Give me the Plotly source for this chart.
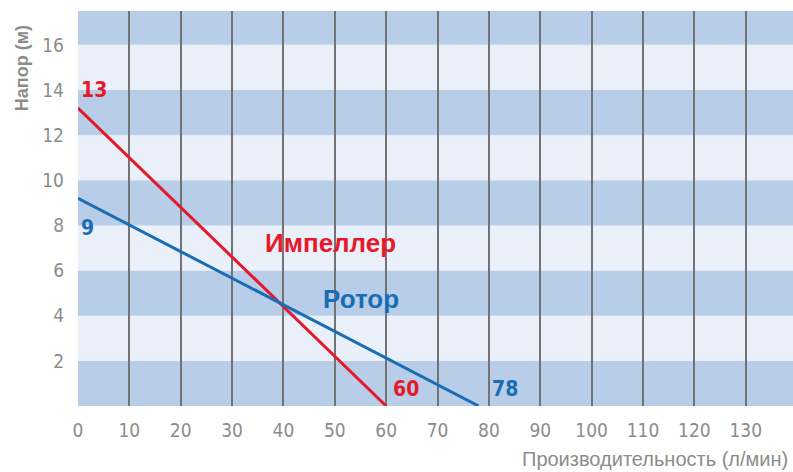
import plotly.graph_objects as go

# Data
impeller_x = [0, 60]
impeller_y = [13.2, 0]
rotor_x = [0, 78]
rotor_y = [9.2, 0]
x_ticks = list(range(0, 140, 10))
y_ticks = list(range(2, 18, 2))
band_edges = [0, 2, 4, 6, 8, 10, 12, 14, 16, 17.5]

RED = "#e5192a"
BLUE = "#1a6db5"
DARK = "#b8cee8"
LIGHT = "#e9f0f9"
TICK = "#8c8c8c"
NARROW = "Liberation Sans Narrow, Arial Narrow, DejaVu Sans Condensed, Liberation Sans, Arial, sans-serif"
SANS = "Liberation Sans, Arial, sans-serif"

fig = go.Figure()
fig.add_trace(go.Scatter(x=impeller_x, y=impeller_y, mode="lines",
                         line=dict(color=RED, width=3), showlegend=False, hoverinfo="skip"))
fig.add_trace(go.Scatter(x=rotor_x, y=rotor_y, mode="lines",
                         line=dict(color=BLUE, width=3), showlegend=False, hoverinfo="skip"))

shapes = []
for i in range(len(band_edges) - 1):
    shapes.append(dict(type="rect", xref="paper", yref="y", x0=0, x1=1,
                       y0=band_edges[i], y1=band_edges[i + 1],
                       fillcolor=DARK if i % 2 == 0 else LIGHT,
                       line=dict(width=0), layer="below"))

annotations = [
    dict(x=impeller_x[0], y=impeller_y[0], text="<b>13</b>", xanchor="left", yanchor="bottom",
         xshift=1, yshift=4, font=dict(color=RED, size=21, family=NARROW)),
    dict(x=rotor_x[0], y=rotor_y[0], text="<b>9</b>", xanchor="left", yanchor="top",
         xshift=1, yshift=-16, font=dict(color=BLUE, size=21, family=NARROW)),
    dict(x=impeller_x[1], y=0, text="<b>60</b>", xanchor="left", yanchor="bottom",
         xshift=5, yshift=3, font=dict(color=RED, size=21, family=NARROW)),
    dict(x=rotor_x[1], y=0, text="<b>78</b>", xanchor="left", yanchor="bottom",
         xshift=11, yshift=3, font=dict(color=BLUE, size=21, family=NARROW)),
    dict(x=49.1, y=7.2, text="<b>Импеллер</b>", xanchor="center", yanchor="middle",
         font=dict(color=RED, size=26, family=SANS)),
    dict(x=55.0, y=4.75, text="<b>Ротор</b>", xanchor="center", yanchor="middle",
         font=dict(color=BLUE, size=26, family=SANS)),
    dict(x=1, y=-0.135, xref="paper", yref="paper", text="Производительность (л/мин)",
         xanchor="right", yanchor="middle", showarrow=False, xshift=-3,
         font=dict(color=TICK, size=20, family=SANS)),
    dict(x=-0.0785, y=0.855, xref="paper", yref="paper", text="<b>Напор (м)</b>",
         textangle=-90, xanchor="center", yanchor="middle", showarrow=False,
         font=dict(color=TICK, size=18, family=SANS)),
]
for a in annotations:
    a.setdefault("showarrow", False)

fig.update_layout(
    width=793, height=472,
    margin=dict(l=78, r=0, t=11, b=66),
    paper_bgcolor="white", plot_bgcolor="white",
    shapes=shapes, annotations=annotations,
    font=dict(family=NARROW, color=TICK, size=19),
    xaxis=dict(range=[0, 139.2], tickvals=x_ticks, showgrid=True,
               gridcolor="#737373", gridwidth=1.6, zeroline=False,
               showline=False, ticks="", ticklabelstandoff=11,
               tickfont=dict(size=19, color=TICK, family=NARROW)),
    yaxis=dict(range=[0, 17.5], tickvals=y_ticks, showgrid=False,
               zeroline=False, showline=False, ticks="", ticklabelstandoff=13,
               tickfont=dict(size=19, color=TICK, family=NARROW)),
)

fig.write_html("out.html", config={"displayModeBar": False},
               post_script="document.body.style.margin='0';document.body.style.padding='0';")
